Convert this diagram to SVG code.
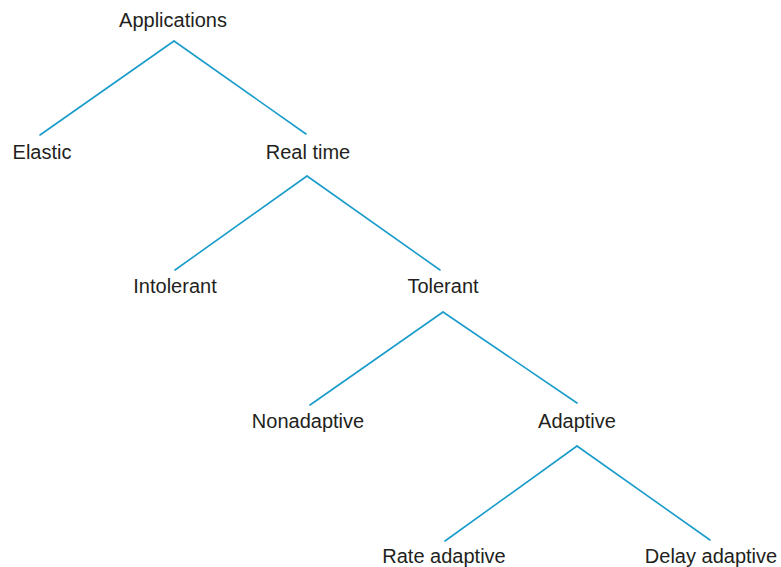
<svg xmlns="http://www.w3.org/2000/svg" width="781" height="567" viewBox="0 0 781 567">
<style>
text{font-family:"Liberation Sans",Arial,sans-serif;font-size:20px;fill:#231f20;text-anchor:middle}
.c line{stroke:#1a9ccb;stroke-width:1.6;stroke-linecap:round}
</style>
<rect width="781" height="567" fill="#fff"/>
<g class="c" id="connectors">
<line x1="174" y1="41" x2="40" y2="135"/>
<line x1="174" y1="41" x2="306" y2="134"/>
<line x1="307" y1="176" x2="175" y2="270"/>
<line x1="307" y1="176" x2="440" y2="270"/>
<line x1="443" y1="312" x2="310" y2="405"/>
<line x1="443" y1="312" x2="577" y2="403"/>
<line x1="577" y1="446" x2="445" y2="541"/>
<line x1="577" y1="446" x2="710" y2="540"/>
</g>
<g id="applications"><text x="173" y="27">Applications</text></g>
<g id="elastic"><text x="42" y="159">Elastic</text></g>
<g id="realtime"><text x="308" y="159">Real time</text></g>
<g id="intolerant"><text x="175" y="293">Intolerant</text></g>
<g id="tolerant"><text x="443" y="293">Tolerant</text></g>
<g id="nonadaptive"><text x="308" y="428">Nonadaptive</text></g>
<g id="adaptive"><text x="577" y="428">Adaptive</text></g>
<g id="rateadaptive"><text x="444" y="563">Rate adaptive</text></g>
<g id="delayadaptive"><text x="711" y="563">Delay adaptive</text></g>
</svg>
